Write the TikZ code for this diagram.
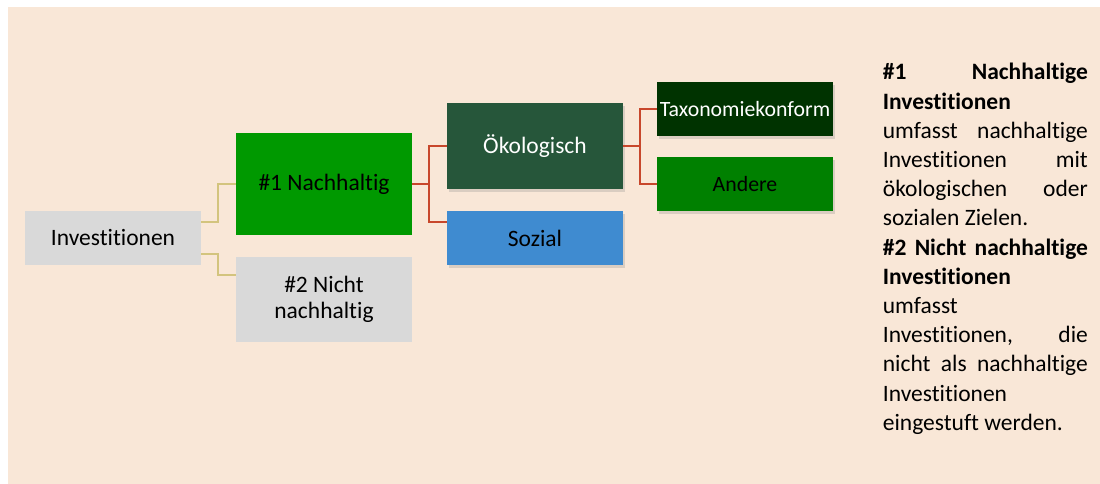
\documentclass[tikz,border=0pt]{standalone}
\usepackage{fontspec}
\setmainfont{Carlito}[Ligatures={NoCommon}]
\usetikzlibrary{shadows}
\definecolor{bgc}{HTML}{F9E7D7}
\definecolor{grayc}{HTML}{D9D9D9}
\definecolor{nachc}{HTML}{009900}
\definecolor{oekc}{HTML}{26563A}
\definecolor{sozc}{HTML}{3F8BD0}
\definecolor{taxc}{HTML}{003300}
\definecolor{andc}{HTML}{008000}
\definecolor{olivec}{HTML}{D3C47E}
\definecolor{redc}{HTML}{C8472B}
\tikzset{
  box/.style={rectangle, minimum width=176pt, inner sep=0pt, align=center,
    font=\fontsize{23.5}{26}\selectfont},
  sbox/.style={box, drop shadow={opacity=0.25, shadow xshift=2pt, shadow yshift=-3pt}},
  smallbox/.style={sbox, font=\fontsize{21.8}{24}\selectfont},
  oline/.style={draw=olivec, line width=2pt},
  rline/.style={draw=redc, line width=2pt},
}
\begin{document}
\begin{tikzpicture}[x=1pt,y=-1pt]
\useasboundingbox (0,0) rectangle (1100,484);
\fill[bgc] (8,7) rectangle (1100,484);
\node[box, fill=grayc, minimum height=54pt] (inv) at (113,238) {Investitionen};
\node[box, fill=nachc, minimum height=102pt] (nach) at (324,184) {\#1 Nachhaltig};
\node[box, fill=grayc, minimum height=85pt] (nn) at (324,299.5) {\#2 Nicht\\nachhaltig};
\node[sbox, fill=oekc, text=white, minimum height=86pt] (oek) at (535,146) {Ökologisch};
\node[sbox, fill=sozc, minimum height=54pt] (soz) at (535,238) {Sozial};
\node[smallbox, fill=taxc, text=white, minimum height=54pt] (tax) at (745,109) {Taxonomiekonform};
\node[smallbox, fill=andc, minimum height=54pt] (and) at (745,184) {Andere};
\draw[oline] ([yshift=16pt]inv.east) -- ++(17,0) |- (nach.west);
\draw[oline] ([yshift=-16pt]inv.east) -- ++(17,0) |- ([yshift=24.5pt]nn.west);
\draw[rline] (nach.east) -- ++(17,0) coordinate (r1);
\draw[rline] (r1) |- (oek.west);
\draw[rline] (r1) |- ([yshift=16pt]soz.west);
\draw[rline] (oek.east) -- ++(17,0) coordinate (r2);
\draw[rline] (r2) |- (tax.west);
\draw[rline] (r2) |- (and.west);
\node[anchor=base west, inner sep=0pt] (txt) at (882.7,80) {\parbox[t]{205pt}{\fontsize{23.5}{29.2}\selectfont\setlength{\parfillskip}{0pt plus 1fil}%
\textbf{\#1 Nachhaltige\linebreak Investitionen}\newline umfasst nachhaltige\linebreak Investitionen mit\linebreak ökologischen oder\linebreak sozialen Zielen.\par
\textbf{\#2 Nicht nachhaltige\linebreak Investitionen}\newline umfasst\newline Investitionen, die\linebreak nicht als nachhaltige\linebreak Investitionen\newline eingestuft werden.}};
\end{tikzpicture}
\end{document}
